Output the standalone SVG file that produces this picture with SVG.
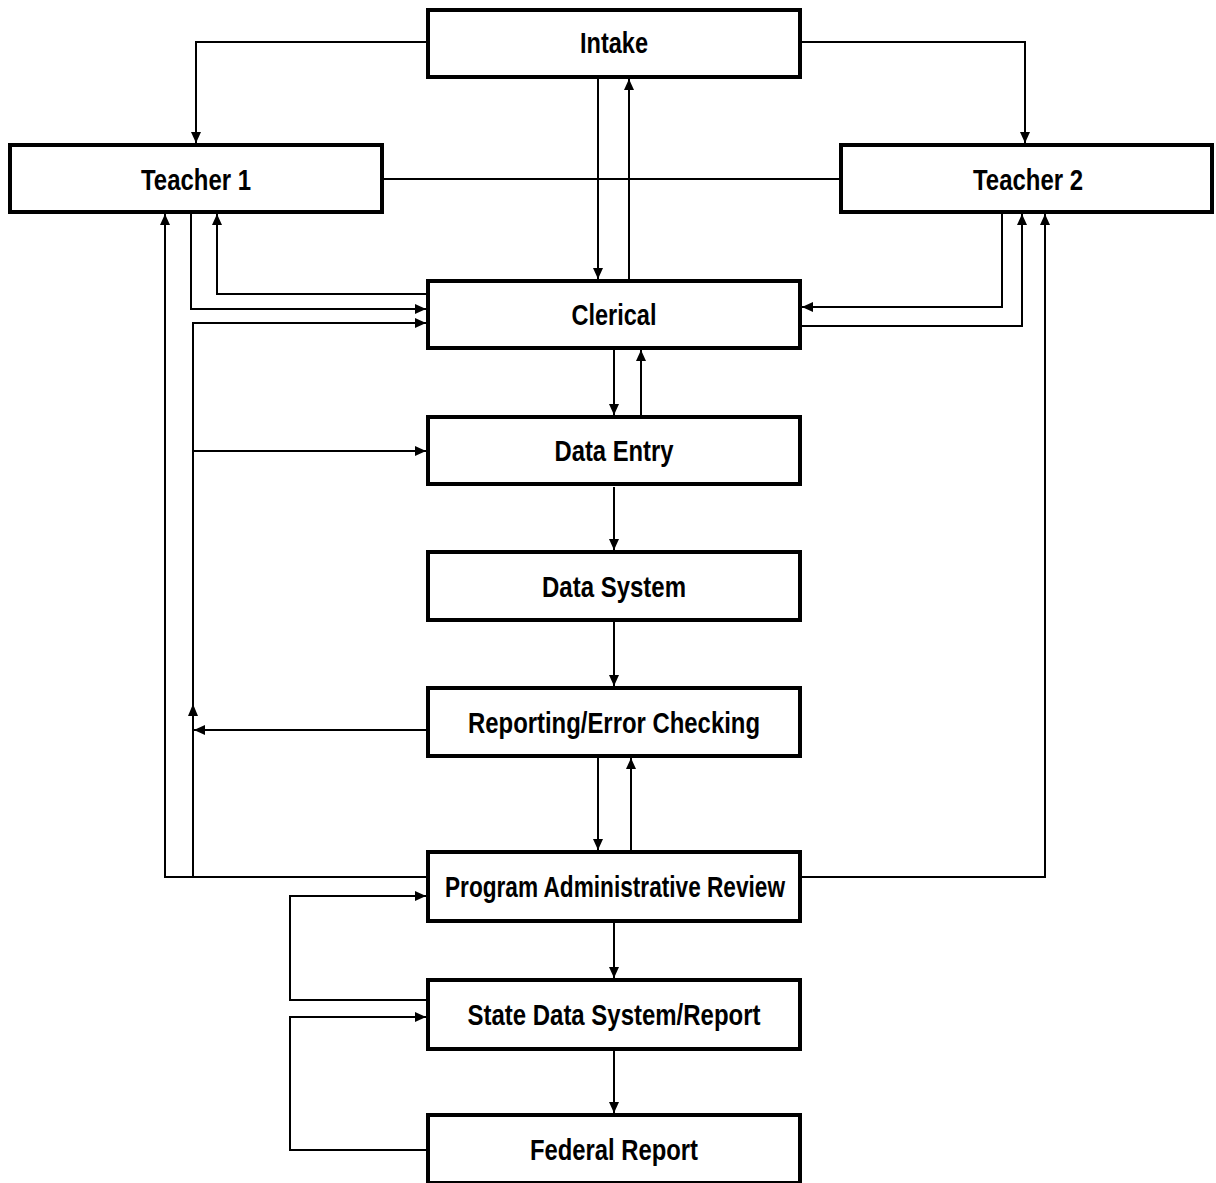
<svg xmlns="http://www.w3.org/2000/svg" width="1216" height="1183" viewBox="0 0 1216 1183">
<style>
.box{fill:#fff;stroke:#000;stroke-width:4}
.lbl{font-family:"Liberation Sans Narrow","Liberation Sans",Arial,sans-serif;font-weight:bold;font-size:29px;fill:#000;text-anchor:middle}
.c{fill:none;stroke:#000;stroke-width:2}
.a{marker-end:url(#arr)}
</style>
<defs>
<marker id="arr" markerUnits="userSpaceOnUse" markerWidth="11" markerHeight="10" refX="11" refY="5" orient="auto">
<path d="M0,0 L11,5 L0,10 z" fill="#000"/>
</marker>
</defs>
<rect width="1216" height="1183" fill="#fff"/>
<g id="connectors">
<path class="c a" d="M428,42 H196 V143"/>
<path class="c a" d="M800,42 H1025 V143"/>
<path class="c" d="M382,179 H841"/>
<path class="c a" d="M598,78 V279"/>
<path class="c a" d="M629,279 V79"/>
<path class="c a" d="M428,294 H217 V214"/>
<path class="c a" d="M191,214 V309 H426"/>
<path class="c a" d="M193,877 V323 H426"/>
<path class="c a" d="M193,451 H426"/>
<path d="M193,704 L188,716 L198,716 z" fill="#000"/>
<path class="c a" d="M614,350 V415"/>
<path class="c a" d="M641,415 V350"/>
<path class="c a" d="M614,487 V550"/>
<path class="c a" d="M614,622 V686"/>
<path class="c a" d="M428,730 H194"/>
<path class="c a" d="M598,758 V850"/>
<path class="c a" d="M631,850 V758"/>
<path class="c a" d="M428,877 H165 V214"/>
<path class="c a" d="M800,877 H1045 V214"/>
<path class="c a" d="M1002,214 V307 H802"/>
<path class="c a" d="M802,326 H1022 V214"/>
<path class="c a" d="M614,923 V978"/>
<path class="c a" d="M428,1000 H290 V896 H426"/>
<path class="c a" d="M428,1150 H290 V1017 H426"/>
<path class="c a" d="M614,1051 V1113"/>
</g>
<g id="intake"><rect class="box" x="428" y="10" width="372" height="67"/><text class="lbl" x="614" y="53" textLength="68" lengthAdjust="spacingAndGlyphs">Intake</text></g>
<g id="teacher1"><rect class="box" x="10" y="145" width="372" height="67"/><text class="lbl" x="196" y="190" textLength="110" lengthAdjust="spacingAndGlyphs">Teacher 1</text></g>
<g id="teacher2"><rect class="box" x="841" y="145" width="371" height="67"/><text class="lbl" x="1028" y="190" textLength="110" lengthAdjust="spacingAndGlyphs">Teacher 2</text></g>
<g id="clerical"><rect class="box" x="428" y="281" width="372" height="67"/><text class="lbl" x="614" y="325" textLength="85" lengthAdjust="spacingAndGlyphs">Clerical</text></g>
<g id="data-entry"><rect class="box" x="428" y="417" width="372" height="67"/><text class="lbl" x="614" y="461" textLength="119" lengthAdjust="spacingAndGlyphs">Data Entry</text></g>
<g id="data-system"><rect class="box" x="428" y="552" width="372" height="68"/><text class="lbl" x="614" y="597" textLength="144" lengthAdjust="spacingAndGlyphs">Data System</text></g>
<g id="reporting"><rect class="box" x="428" y="688" width="372" height="68"/><text class="lbl" x="614" y="733" textLength="292" lengthAdjust="spacingAndGlyphs">Reporting/Error Checking</text></g>
<g id="program-review"><rect class="box" x="428" y="852" width="372" height="69"/><text class="lbl" x="615" y="897" textLength="340" lengthAdjust="spacingAndGlyphs">Program Administrative Review</text></g>
<g id="state"><rect class="box" x="428" y="980" width="372" height="69"/><text class="lbl" x="614" y="1025" textLength="293" lengthAdjust="spacingAndGlyphs">State Data System/Report</text></g>
<g id="federal"><rect class="box" x="428" y="1115" width="372" height="68"/><text class="lbl" x="614" y="1160" textLength="168" lengthAdjust="spacingAndGlyphs">Federal Report</text></g>
</svg>
